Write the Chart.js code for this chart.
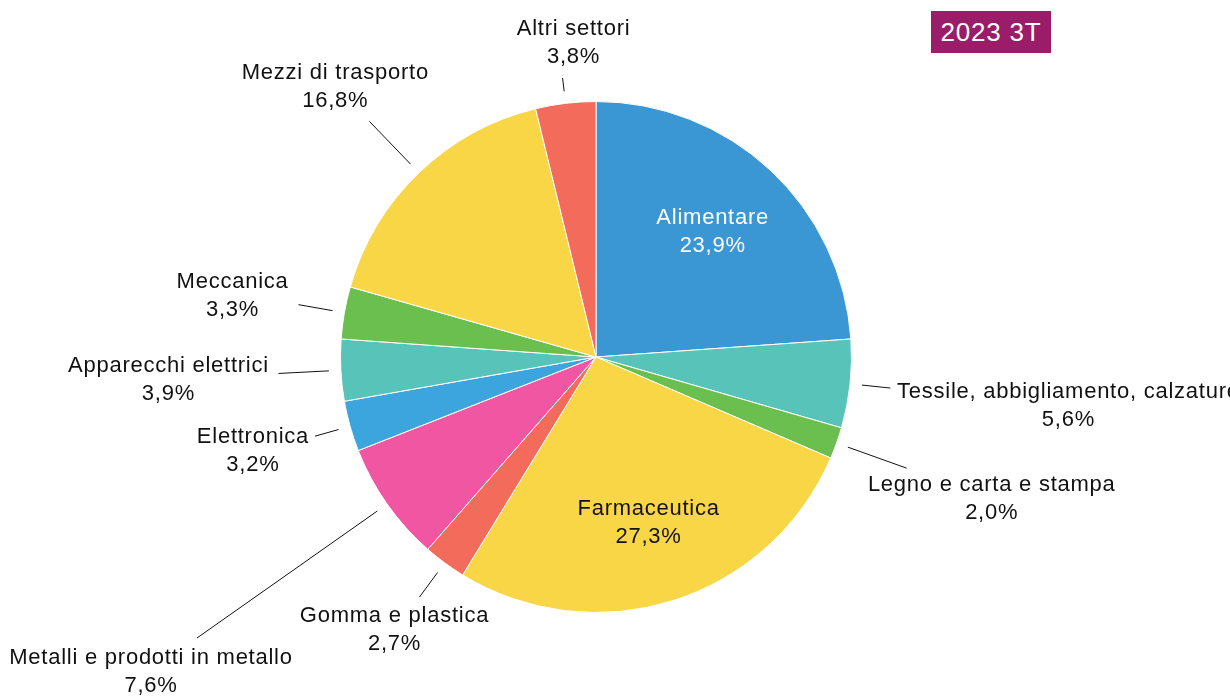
<!DOCTYPE html>
<html>
<head>
<meta charset="utf-8">
<script src="https://cdn.jsdelivr.net/npm/chart.js@4/dist/chart.umd.min.js"></script>
<style>
  html, body { margin: 0; padding: 0; background: #fff; }
  #wrap { position: relative; width: 1230px; height: 697px; overflow: hidden; }
  #badge {
    position: absolute; left: 931px; top: 11px; width: 120px; height: 42px;
    background: #9b1d6a; color: #fff; font: 26px "Liberation Sans", Arial, sans-serif;
    letter-spacing: 0.8px; line-height: 42px; text-align: center;
  }
</style>
</head>
<body>
<div id="wrap">
  <canvas id="pieChart" width="1230" height="697"></canvas>
  <div id="badge">2023 3T</div>
</div>
<script>
const categories = [
  'Alimentare',
  'Tessile, abbigliamento, calzature',
  'Legno e carta e stampa',
  'Farmaceutica',
  'Gomma e plastica',
  'Metalli e prodotti in metallo',
  'Elettronica',
  'Apparecchi elettrici',
  'Meccanica',
  'Mezzi di trasporto',
  'Altri settori',
];
const shares = [23.9, 5.6, 2.0, 27.3, 2.7, 7.6, 3.2, 3.9, 3.3, 16.8, 3.8];
const colors = [
  '#3a97d4', '#57c3b9', '#6abf4e', '#f9d645', '#f26b5b', '#f056a1',
  '#3ca5dd', '#57c3b9', '#6abf4e', '#f9d645', '#f26b5b',
];

// label placement: inside labels sit at a fraction of the radius,
// outside ones get a radial leader line and an offset text block
const labelLayout = [
  { inside: true, r: 0.67, color: '#fff' },
  { lineEnd: 296, dx: 178, dy: 4 },
  { lineEnd: 330, dx: 85, dy: 17 },
  { inside: true, r: 0.68, color: '#111' },
  { lineEnd: 298, dx: -25, dy: 19 },
  { lineEnd: 488, dx: -46, dy: 20 },
  { lineEnd: 292, dx: -62, dy: 1 },
  { lineEnd: 318, dx: -110, dy: -8 },
  { lineEnd: 302, dx: -66, dy: -23 },
  { lineEnd: 327, dx: -34, dy: -48 },
  { lineEnd: 281, dx: 11, dy: -49 },
];

const fmt = (v) => v.toFixed(1).replace('.', ',') + '%';

const pieLabels = {
  id: 'pieLabels',
  afterDatasetsDraw(chart) {
    const ctx = chart.ctx;
    const arcs = chart.getDatasetMeta(0).data;
    ctx.save();
    ctx.font = '22px "Liberation Sans", Arial, sans-serif';
    ctx.letterSpacing = '0.75px';
    ctx.textAlign = 'center';
    ctx.textBaseline = 'middle';
    arcs.forEach((arc, i) => {
      const lay = labelLayout[i];
      const mid = (arc.startAngle + arc.endAngle) / 2;
      const cx = Math.cos(mid), cy = Math.sin(mid);
      let tx, ty;
      if (lay.inside) {
        tx = arc.x + cx * arc.outerRadius * lay.r;
        ty = arc.y + cy * arc.outerRadius * lay.r - 14;
        ctx.fillStyle = lay.color;
      } else {
        const r0 = arc.outerRadius + 12;
        const ex = arc.x + cx * lay.lineEnd;
        const ey = arc.y + cy * lay.lineEnd;
        ctx.strokeStyle = '#111';
        ctx.lineWidth = 1;
        ctx.beginPath();
        ctx.moveTo(arc.x + cx * r0, arc.y + cy * r0);
        ctx.lineTo(ex, ey);
        ctx.stroke();
        tx = ex + lay.dx;
        ty = ey + lay.dy;
        ctx.fillStyle = '#111';
      }
      ctx.fillText(categories[i], tx, ty);
      ctx.fillText(fmt(shares[i]), tx, ty + 28);
    });
    ctx.restore();
  },
};

new Chart(document.getElementById('pieChart').getContext('2d'), {
  type: 'pie',
  data: {
    labels: categories,
    datasets: [
      {
        data: shares,
        backgroundColor: colors,
        borderColor: '#ffffff',
        borderWidth: 1,
      },
    ],
  },
  options: {
    responsive: false,
    animation: false,
    layout: { padding: { top: 101, bottom: 84, left: 340, right: 378 } },
    plugins: {
      legend: { display: false },
      tooltip: { enabled: false },
    },
  },
  plugins: [pieLabels],
});
</script>
</body>
</html>
